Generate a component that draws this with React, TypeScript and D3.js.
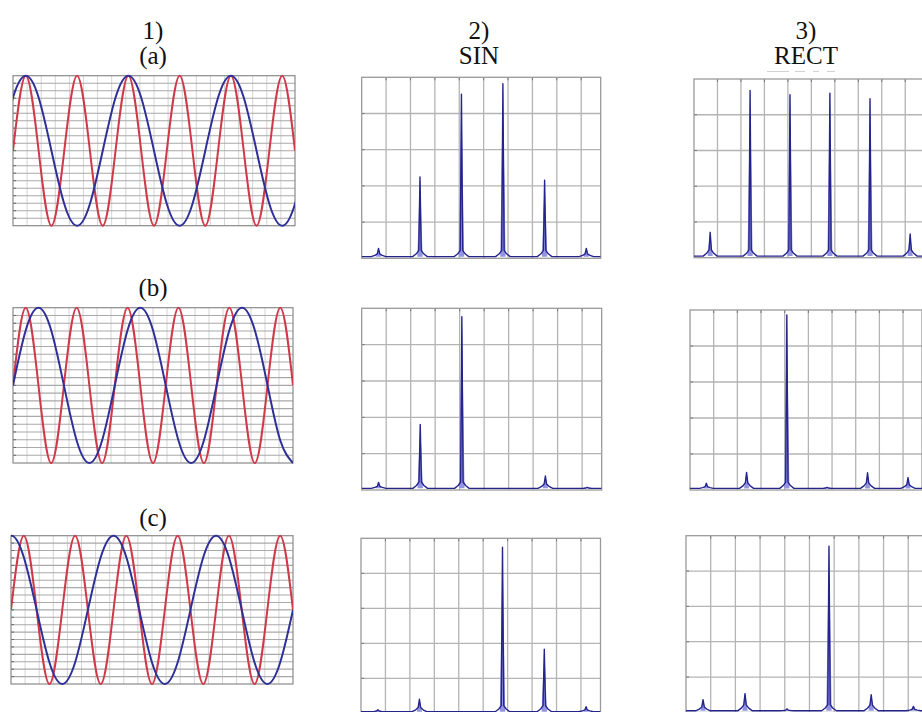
import React from "react";
import * as d3 from "d3";

// ---------- text ----------
const columnTitles = ["1)", "2)", "3)"];
const columnSubtitles = ["(a)", "SIN", "RECT"];
const rowLabels = ["(b)", "(c)"];

// ---------- waveforms (key points every quarter period of the red wave) ----------
// red wave: samples at t = 0..22
const redWaveStart = 0;
const redWave = [0, 1, 0, -1, 0, 1, 0, -1, 0, 1, 0, -1, 0, 1, 0, -1, 0, 1, 0, -1, 0, 1, 0];
// blue waves (half the frequency of red)
const blueWaveAStart = -1;
const blueWaveA = [0, 0.71, 1, 0.71, 0, -0.71, -1, -0.71, 0, 0.71, 1, 0.71, 0, -0.71, -1, -0.71, 0, 0.71, 1, 0.71, 0, -0.71, -1, -0.71, 0];
const blueWaveBStart = 0;
const blueWaveB = [0, 0.71, 1, 0.71, 0, -0.71, -1, -0.71, 0, 0.71, 1, 0.71, 0, -0.71, -1, -0.71, 0, 0.71, 1, 0.71, 0, -0.71, -1];
const blueWaveCStart = -1;
const blueWaveC = [0.71, 1, 0.71, 0, -0.71, -1, -0.71, 0, 0.71, 1, 0.71, 0, -0.71, -1, -0.71, 0, 0.71, 1, 0.71, 0, -0.71, -1, -0.71, 0];

// ---------- spectra ----------
const spikeFreqs = [0.69, 2.39, 4.09, 5.79, 7.5, 9.21];
const sinA = [0.054, 0.45, 0.906, 0.964, 0.432, 0.054];
const sinB = [0.042, 0.361, 0.954, 0, 0.077, 0.015];
const sinC = [0.02, 0.08, 0, 0.949, 0.366, 0.038];
const rectA = [0.142, 0.936, 0.912, 0.921, 0.89, 0.133];
const rectB = [0.037, 0.098, 0.972, 0.015, 0.096, 0.069];
const rectC = [0.072, 0.106, 0.02, 0.94, 0.1, 0.034];
const spectrumFloor = 0.009;
const freqTicks = [1, 2, 3, 4, 5, 6, 7, 8, 9];
const ampTicks = [0.2, 0.4, 0.6, 0.8];

// ---------- layout ----------
const W = 922;
const H = 712;
const waveBoxes = [
  { x: 13, y: 75.7, w: 282, h: 150 },
  { x: 13, y: 307.7, w: 280, h: 155.3 },
  { x: 11, y: 535.7, w: 282, h: 148.3 },
];
const sinBoxes = [
  { x: 361.7, y: 77.3, w: 239, h: 181 },
  { x: 361.7, y: 308.3, w: 240, h: 181.7 },
  { x: 361, y: 538.3, w: 239.5, h: 175 },
];
const rectBoxes = [
  { x: 694, y: 79, w: 230, h: 178.7 },
  { x: 690, y: 310, w: 232, h: 180 },
  { x: 686, y: 535.7, w: 242, h: 176.7 },
];

const RED = "#cf3a4a";
const BLUE = "#2f2f98";
const SPEC = "#24248a";
const SPEC_FILL = "#9494e4";
const FONT = "'Liberation Serif', 'Times New Roman', serif";

type Box = { x: number; y: number; w: number; h: number };

function WavePanel({ box, blue, blueStart, id }: { box: Box; blue: number[]; blueStart: number; id: string }) {
  const x = d3.scaleLinear().domain([0, 22]).range([box.x, box.x + box.w]);
  const y = d3.scaleLinear().domain([-1, 1]).range([box.y + box.h, box.y]);
  const line = d3
    .line<[number, number]>()
    .x((d) => x(d[0]))
    .y((d) => y(d[1]))
    .curve(d3.curveNatural);
  const redPts: [number, number][] = redWave.map((v, i) => [redWaveStart + i, v]);
  const bluePts: [number, number][] = blue.map((v, i) => [blueStart + i, v]);
  const gx = d3.scaleLinear().domain([0, 20]).range([box.x, box.x + box.w]);
  const gy = d3.scaleLinear().domain([0, 20]).range([box.y, box.y + box.h]);
  const idx = d3.range(1, 20);
  return (
    <g>
      <defs>
        <clipPath id={id}>
          <rect x={box.x} y={box.y - 1.5} width={box.w} height={box.h + 3} />
        </clipPath>
      </defs>
      <rect x={box.x} y={box.y} width={box.w} height={box.h} fill="#fff" />
      {idx.map((i) => (
        <line key={"v" + i} x1={gx(i)} x2={gx(i)} y1={box.y} y2={box.y + box.h} stroke="#cfcfcf" strokeWidth={0.9} />
      ))}
      {idx.map((i) => (
        <line key={"h" + i} x1={box.x} x2={box.x + box.w} y1={gy(i)} y2={gy(i)} stroke="#a9a9a9" strokeWidth={1.1} />
      ))}
      {idx.map((i) => (
        <line key={"t" + i} x1={box.x} x2={box.x + 3} y1={gy(i)} y2={gy(i)} stroke="#666" strokeWidth={1} />
      ))}
      <rect x={box.x} y={box.y} width={box.w} height={box.h} fill="none" stroke="#8a8a8a" strokeWidth={1.2} />
      <g clipPath={`url(#${id})`}>
        <path d={line(redPts) || ""} fill="none" stroke={RED} strokeWidth={2} />
        <path d={line(bluePts) || ""} fill="none" stroke={BLUE} strokeWidth={2} />
      </g>
    </g>
  );
}

function SpectrumPanel({ box, heights, id }: { box: Box; heights: number[]; id: string }) {
  const x = d3.scaleLinear().domain([0, 9.8]).range([box.x, box.x + box.w]);
  const y = d3.scaleLinear().domain([0, 1]).range([box.y + box.h, box.y]);
  const base = spectrumFloor;
  const pts: [number, number][] = [[0, base]];
  const fills: [number, number][][] = [];
  spikeFreqs.forEach((f, i) => {
    const h = heights[i];
    if (h <= base + 0.004) return;
    const foot = Math.min(0.035, (h - base) * 0.35);
    pts.push(
      [f - 0.3, base],
      [f - 0.15, base + foot * 0.45],
      [f - 0.05, base + foot],
      [f, h],
      [f + 0.05, base + foot],
      [f + 0.15, base + foot * 0.45],
      [f + 0.3, base]
    );
    fills.push([
      [f - 0.11, base],
      [f, h],
      [f + 0.11, base],
    ]);
  });
  pts.push([9.8, base]);
  const line = d3
    .line<[number, number]>()
    .x((d) => x(d[0]))
    .y((d) => y(d[1]));
  return (
    <g>
      <defs>
        <clipPath id={id}>
          <rect x={box.x} y={box.y} width={box.w} height={box.h} />
        </clipPath>
      </defs>
      <rect x={box.x} y={box.y} width={box.w} height={box.h} fill="#fff" />
      {freqTicks.map((t) => (
        <line key={"v" + t} x1={x(t)} x2={x(t)} y1={box.y} y2={box.y + box.h} stroke="#b4b4b4" strokeWidth={1.3} />
      ))}
      {ampTicks.map((t) => (
        <line key={"h" + t} x1={box.x} x2={box.x + box.w} y1={y(t)} y2={y(t)} stroke="#b4b4b4" strokeWidth={1.3} />
      ))}
      {ampTicks.map((t) => (
        <line key={"lt" + t} x1={box.x} x2={box.x + 3} y1={y(t)} y2={y(t)} stroke="#777" strokeWidth={1} />
      ))}
      {freqTicks.map((t) => (
        <line key={"tt" + t} x1={x(t)} x2={x(t)} y1={box.y} y2={box.y + 3} stroke="#777" strokeWidth={1} />
      ))}
      <rect x={box.x} y={box.y} width={box.w} height={box.h} fill="none" stroke="#9a9a9a" strokeWidth={1.3} />
      <g clipPath={`url(#${id})`}>
        {fills.map((f, i) => (
          <path key={i} d={line(f) + "Z"} fill={SPEC_FILL} stroke="none" />
        ))}
        <path d={line(pts) || ""} fill="none" stroke={SPEC} strokeWidth={1.4} strokeLinejoin="round" />
      </g>
    </g>
  );
}

export default function App() {
  const colX = [153, 479, 806];
  const blues = [blueWaveA, blueWaveB, blueWaveC];
  const blueStarts = [blueWaveAStart, blueWaveBStart, blueWaveCStart];
  const sins = [sinA, sinB, sinC];
  const rects = [rectA, rectB, rectC];
  const rowLabelY = [296, 526];
  return (
    <svg
      width={W}
      height={H}
      viewBox={`0 0 ${W} ${H}`}
      style={{ position: "absolute", left: 0, top: 0, background: "#fff" }}
    >
      <rect x={0} y={0} width={W} height={H} fill="#fff" />
      {columnTitles.map((t, i) => (
        <text key={t} x={colX[i]} y={39} textAnchor="middle" fontFamily={FONT} fontSize={25} fill="#111">
          {t}
        </text>
      ))}
      {columnSubtitles.map((t, i) => (
        <text key={t} x={colX[i]} y={64} textAnchor="middle" fontFamily={FONT} fontSize={25} fill="#111">
          {t}
        </text>
      ))}
      <line x1={767} x2={838} y1={71.5} y2={71.5} stroke="#d2d2d2" strokeWidth={1.2} strokeDasharray="22 6 10 8 6 8 8" />
      {rowLabels.map((t, i) => (
        <text key={t} x={colX[0]} y={rowLabelY[i]} textAnchor="middle" fontFamily={FONT} fontSize={25} fill="#111">
          {t}
        </text>
      ))}
      {waveBoxes.map((b, i) => (
        <WavePanel key={"w" + i} box={b} blue={blues[i]} blueStart={blueStarts[i]} id={"wclip" + i} />
      ))}
      {sinBoxes.map((b, i) => (
        <SpectrumPanel key={"s" + i} box={b} heights={sins[i]} id={"sclip" + i} />
      ))}
      {rectBoxes.map((b, i) => (
        <SpectrumPanel key={"r" + i} box={b} heights={rects[i]} id={"rclip" + i} />
      ))}
    </svg>
  );
}
